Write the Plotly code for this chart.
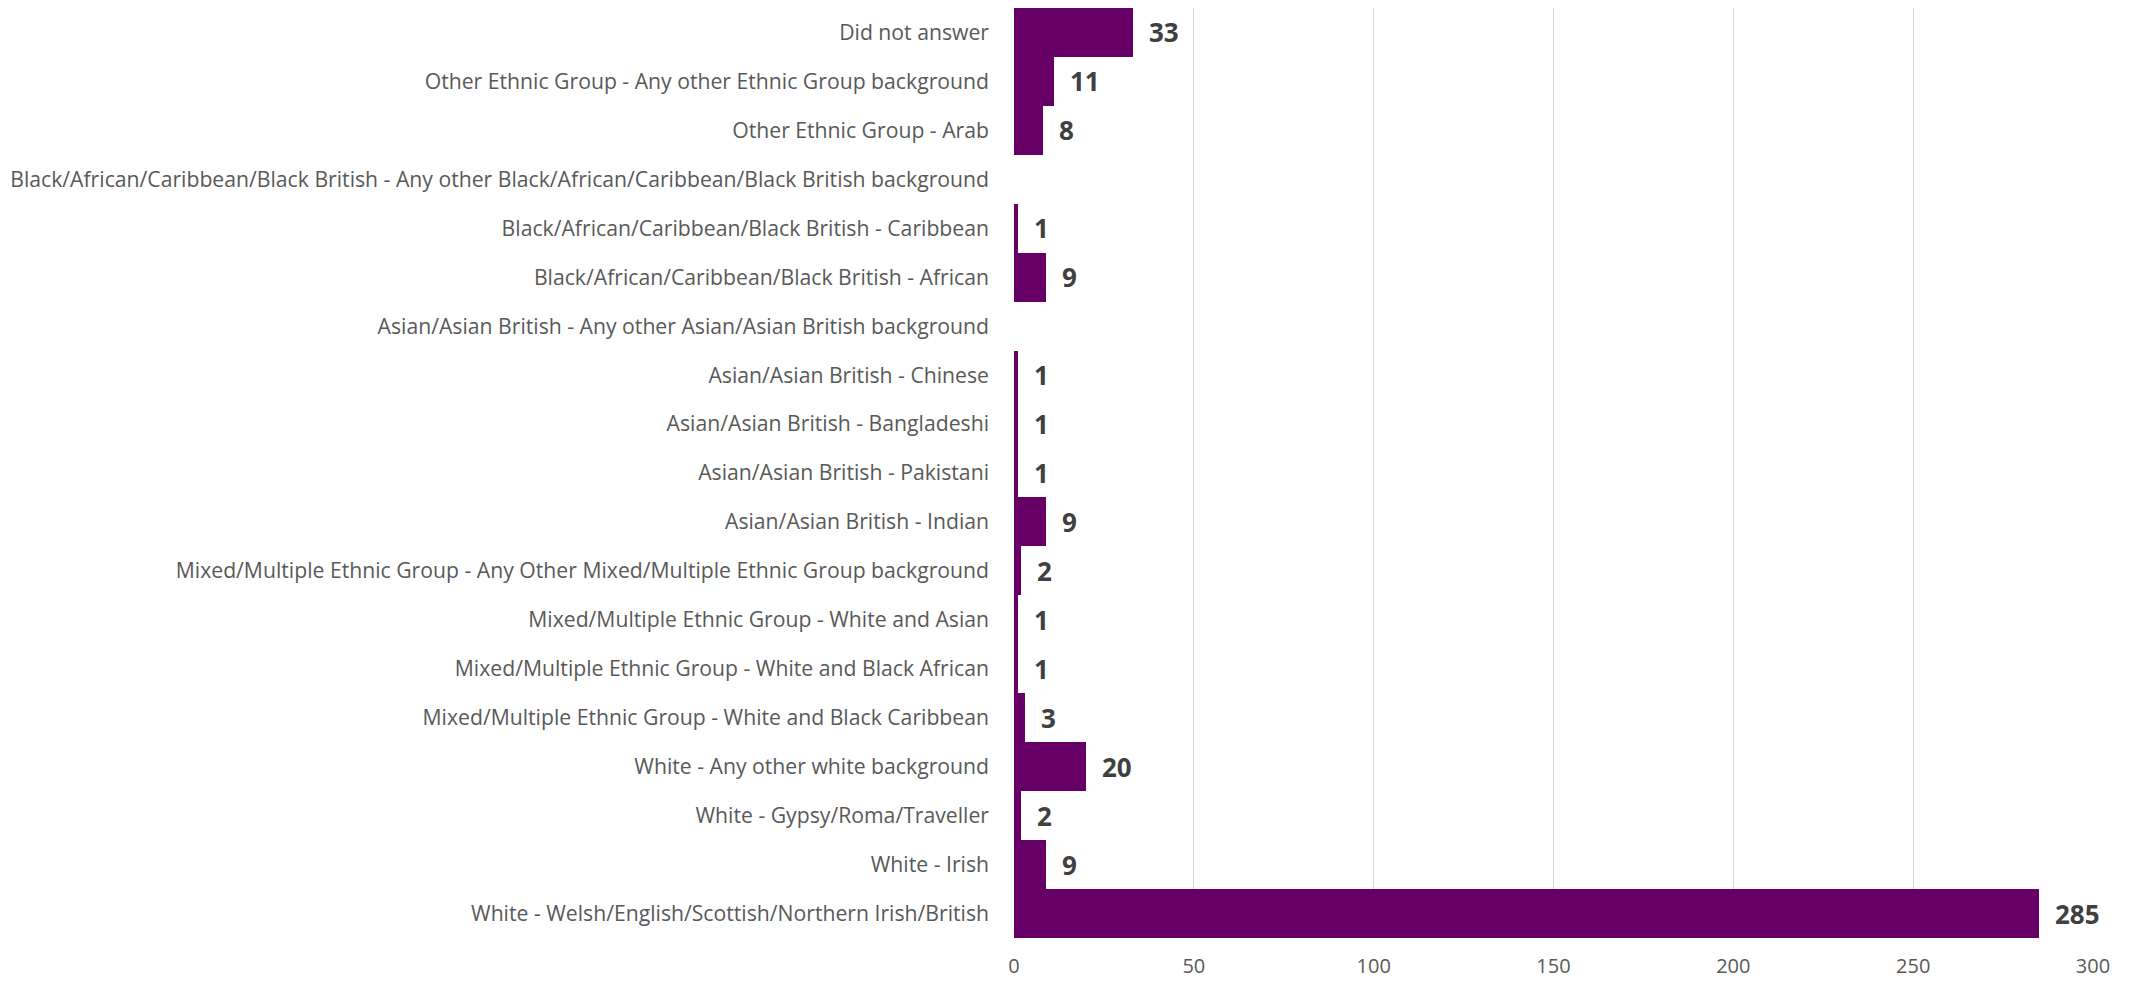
import plotly.graph_objects as go

# Survey responses by ethnic group, listed top to bottom
categories = [
    "Did not answer",
    "Other Ethnic Group - Any other Ethnic Group background",
    "Other Ethnic Group - Arab",
    "Black/African/Caribbean/Black British - Any other Black/African/Caribbean/Black British background",
    "Black/African/Caribbean/Black British - Caribbean",
    "Black/African/Caribbean/Black British - African",
    "Asian/Asian British - Any other Asian/Asian British background",
    "Asian/Asian British - Chinese",
    "Asian/Asian British - Bangladeshi",
    "Asian/Asian British - Pakistani",
    "Asian/Asian British - Indian",
    "Mixed/Multiple Ethnic Group - Any Other Mixed/Multiple Ethnic Group background",
    "Mixed/Multiple Ethnic Group - White and Asian",
    "Mixed/Multiple Ethnic Group - White and Black African",
    "Mixed/Multiple Ethnic Group - White and Black Caribbean",
    "White - Any other white background",
    "White - Gypsy/Roma/Traveller",
    "White - Irish",
    "White - Welsh/English/Scottish/Northern Irish/British",
]
counts = [33, 11, 8, 0, 1, 9, 0, 1, 1, 1, 9, 2, 1, 1, 3, 20, 2, 9, 285]
x_ticks = [0, 50, 100, 150, 200, 250, 300]

FONT = "Open Sans, sans-serif"

fig = go.Figure(
    go.Bar(
        x=counts,
        y=categories,
        orientation="h",
        marker=dict(color="#660066", line=dict(width=0)),
        hoverinfo="x+y",
    )
)

# value labels beside each non-empty bar
for cat, val in zip(categories, counts):
    if val > 0:
        fig.add_annotation(
            x=val, y=cat, text=f"<b>{val}</b>", showarrow=False,
            xanchor="left", yanchor="middle", xshift=14,
            font=dict(family=FONT, size=26, color="#404040"),
        )

fig.update_layout(
    width=2130, height=984,
    margin=dict(l=1014, r=37, t=8, b=46, autoexpand=False),
    paper_bgcolor="white", plot_bgcolor="white",
    bargap=0,
    showlegend=False,
    xaxis=dict(
        range=[0, 300], tickvals=x_ticks, showgrid=True,
        gridcolor="#d9d9d9", gridwidth=1, zeroline=False, showline=False,
        tickfont=dict(family=FONT, size=20, color="#595959"),
        ticks="", ticklabelstandoff=14, fixedrange=True,
    ),
    yaxis=dict(
        autorange="reversed", showgrid=False, zeroline=False, showline=False,
        tickfont=dict(family=FONT, size=21.2, color="#595959"),
        ticks="", ticklabelstandoff=24, fixedrange=True,
    ),
)

fig.write_html("out.html")
